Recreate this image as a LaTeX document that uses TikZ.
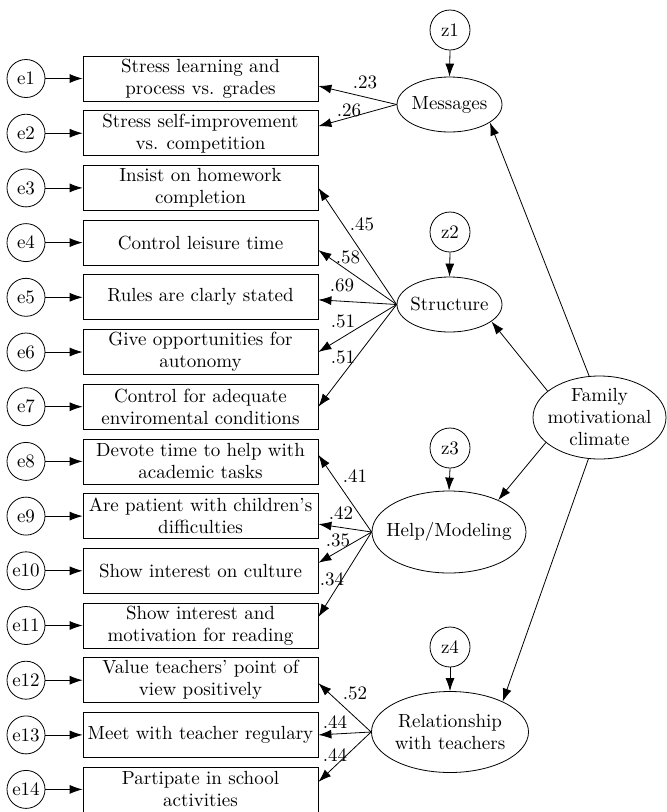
\documentclass[tikz,border=0pt]{standalone}
\usepackage{fontspec}
\setmainfont{lmroman10-regular.otf}
\usetikzlibrary{shapes.geometric,arrows.meta}
\begin{document}
\begin{tikzpicture}[x=1pt,y=-1pt,
  every node/.style={font=\fontsize{19}{22}\selectfont},
  ind/.style={draw,line width=0.8pt,minimum width=235pt,minimum height=45pt,inner sep=0pt,align=center},
  err/.style={draw,circle,line width=0.8pt,minimum size=38pt,inner sep=0pt},
  dist/.style={draw,circle,line width=0.8pt,minimum size=40pt,inner sep=0pt},
  fac/.style={draw,ellipse,line width=0.8pt,inner sep=0pt},
  ftext/.style={inner sep=0pt,align=center},
  arr/.style={-{Latex[length=13pt,width=9pt]},line width=0.8pt},
  lab/.style={inner sep=0pt}
]
\useasboundingbox (0,0) rectangle (667,812);

% indicator boxes
\node[ind] (b1)  at (200.5,78.5)  {Stress learning and\\process vs. grades};
\node[ind] (b2)  at (200.5,133.2) {Stress self-improvement\\vs. competition};
\node[ind] (b3)  at (200.5,187.9) {Insist on homework\\completion};
\node[ind] (b4)  at (200.5,242.6) {Control leisure time};
\node[ind] (b5)  at (200.5,297.3) {Rules are clarly stated};
\node[ind] (b6)  at (200.5,352.0) {Give opportunities for\\autonomy};
\node[ind] (b7)  at (200.5,406.7) {Control for adequate\\enviromental conditions};
\node[ind] (b8)  at (200.5,461.4) {Devote time to help with\\academic tasks};
\node[ind] (b9)  at (200.5,516.1) {Are patient with children’s\\difficulties};
\node[ind] (b10) at (200.5,570.8) {Show interest on culture};
\node[ind] (b11) at (200.5,625.5) {Show interest and\\motivation for reading};
\node[ind] (b12) at (200.5,680.2) {Value teachers’ point of\\view positively};
\node[ind] (b13) at (200.5,734.9) {Meet with teacher regulary};
\node[ind] (b14) at (200.5,789.4) {Partipate in school\\activities};

% error terms
\foreach \i/\y in {1/78.5,2/133.2,3/187.9,4/242.6,5/297.3,6/352.0,7/406.7,8/461.4,9/516.1,10/570.8,11/625.5,12/680.2,13/734.9,14/789.4}{
  \node[err] (e\i) at (26,\y) {e\i};
  \draw[arr] (e\i.east) -- (b\i.west);
}

% factors
\node[fac,minimum width=105pt,minimum height=55pt] (msg) at (449.5,104.5) {};
\node[ftext] (msgT) at (msg.center) {Messages};
\node[fac,minimum width=105pt,minimum height=55pt] (str) at (449.5,304.5) {};
\node[ftext] (strT) at (str.center) {Structure};
\node[fac,minimum width=154pt,minimum height=82pt] (help) at (449,532) {};
\node[ftext] (helpT) at (help.center) {Help/Modeling};
\node[fac,minimum width=157pt,minimum height=81pt] (rel) at (450,732) {};
\node[ftext] (relT) at (rel.center) {Relationship\\with teachers};
\node[fac,minimum width=133pt,minimum height=83pt] (fam) at (599.5,417.5) {};
\node[ftext] (famT) at (fam.center) {Family\\motivational\\climate};

% disturbances
\node[dist] (z1) at (450,30) {z1};
\node[dist] (z2) at (450,232) {z2};
\node[dist] (z3) at (450,448) {z3};
\node[dist] (z4) at (450,647) {z4};
\draw[arr] (z1.south) -- (msg.north);
\draw[arr] (z2.south) -- (str.north);
\draw[arr] (z3.south) -- (help.north);
\draw[arr] (z4.south) -- (rel.north);

% second-order paths
\draw[arr] (fam.104) -- (msg.-24);
\draw[arr] (fam.153) -- (str.-22);
\draw[arr] (fam.205) -- (help.33);
\draw[arr] (fam.255) -- (rel.30);

% loadings
\draw[arr] (msg.west) -- ([yshift=-7.5pt]b1.east);
\draw[arr] (msg.west) -- ([yshift=7pt]b2.east);
\draw[arr] (str.west) -- (b3.east);
\draw[arr] (str.west) -- ([yshift=-7.5pt]b4.east);
\draw[arr] (str.west) -- ([yshift=-2.5pt]b5.east);
\draw[arr] (str.west) -- (b6.east);
\draw[arr] (str.west) -- (b7.east);
\draw[arr] (help.west) -- ([yshift=6.5pt]b8.east);
\draw[arr] (help.west) -- ([yshift=-8pt]b9.east);
\draw[arr] (help.west) -- ([yshift=8pt]b10.east);
\draw[arr] (help.west) -- ([yshift=8.5pt]b11.east);
\draw[arr] (rel.west) -- ([yshift=-3pt]b12.east);
\draw[arr] (rel.west) -- (b13.east);
\draw[arr] (rel.west) -- ([yshift=7.5pt]b14.east);

% loading values
\node[lab] (l1)  at (365,82)  {.23};
\node[lab] (l2)  at (349,110) {.26};
\node[lab] (l3)  at (362,224) {.45};
\node[lab] (l4)  at (348,257) {.58};
\node[lab] (l5)  at (342,285) {.69};
\node[lab] (l6)  at (343,321) {.51};
\node[lab] (l7)  at (343,357) {.51};
\node[lab] (l8)  at (355,476) {.41};
\node[lab] (l9)  at (341,513) {.42};
\node[lab] (l10) at (338,540) {.35};
\node[lab] (l11) at (332,579) {.34};
\node[lab] (l12) at (355,693) {.52};
\node[lab] (l13) at (335,722) {.44};
\node[lab] (l14) at (335,755) {.44};
\end{tikzpicture}
\end{document}
